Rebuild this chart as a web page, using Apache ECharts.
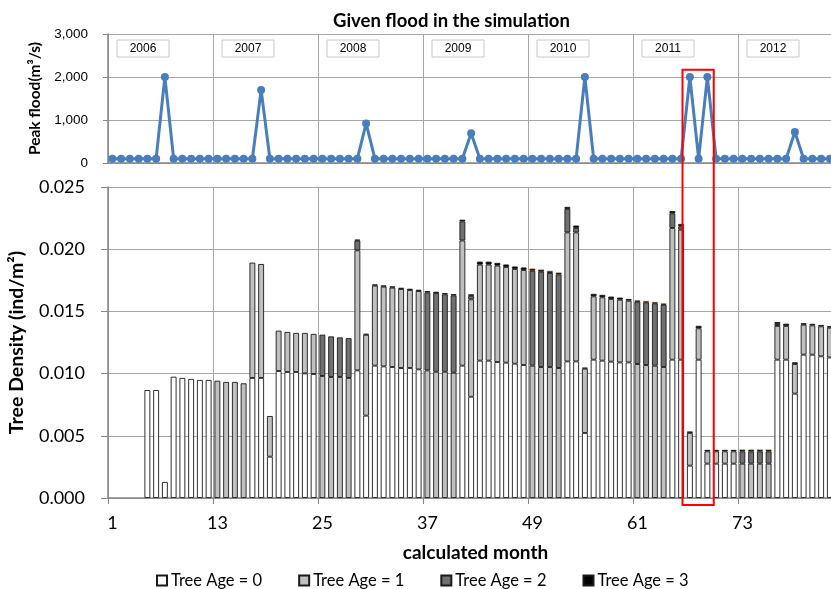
<!DOCTYPE html>
<html><head><meta charset="utf-8">
<script src="https://cdn.jsdelivr.net/npm/echarts@6/dist/echarts.min.js"></script>
<style>html,body{margin:0;padding:0;background:#fff}#c{width:831px;height:589px}</style>
</head><body><div id="c"></div>
<script>
// ---- data ----
const years = ['2006','2007','2008','2009','2010','2011','2012'];
const months = [];
for (let i = 1; i <= 84; i++) months.push(String(i));

const peakFlood = [
  100,100,100,100,100,100,2000,100,100,100,100,100,
  100,100,100,100,100,1700,100,100,100,100,100,100,
  100,100,100,100,100,920,100,100,100,100,100,100,
  100,100,100,100,100,690,100,100,100,100,100,100,
  100,100,100,100,100,100,2000,100,100,100,100,100,
  100,100,100,100,100,100,2000,100,2000,100,100,100,
  100,100,100,100,100,100,720,100,100,100,100,100
];

const age0 = [
  0,0,0,0,0.00868,0.00868,0.00129,0.00975,0.00965,0.00957,0.00949,0.00949,
  0,0,0,0,0.00965,0.00965,0.00332,0.01021,0.01013,0.01013,0.01002,0.00997,
  0,0,0,0,0.01026,0.00662,0.01064,0.01058,0.01053,0.01045,0.01045,0.01034,
  0,0,0,0,0.01064,0.00814,0.01104,0.01104,0.01093,0.01088,0.01080,0.01069,
  0,0,0,0,0.01098,0.01098,0.00523,0.01112,0.01104,0.01096,0.01090,0.01090,
  0,0,0,0,0.01112,0.01112,0.00260,0.01112,0.00276,0.00276,0.00276,0.00276,
  0,0,0,0,0.01112,0.01112,0.00839,0.01152,0.01152,0.01139,0.01130,0.01125
];
const age1 = [
  0,0,0,0,0,0,0,0,0,0,0,0,
  0.00943,0.00933,0.00933,0.00922,0.00927,0.00916,0.00327,0.00324,0.00322,0.00314,0.00325,0.00322,
  0.00981,0.00973,0.00973,0.00965,0.00965,0.00650,0.00643,0.00641,0.00638,0.00635,0.00627,0.00630,
  0.01026,0.01015,0.01015,0.01007,0.01006,0.00783,0.00772,0.00772,0.00775,0.00769,0.00761,0.00764,
  0.01064,0.01053,0.01053,0.01045,0.01037,0.01037,0.00517,0.00509,0.00509,0.00504,0.00504,0.00496,
  0.01077,0.01069,0.01064,0.01053,0.01059,0.01045,0.00263,0.00252,0.00099,0.00099,0.00099,0.00099,
  0.00276,0.00276,0.00276,0.00276,0.00271,0.00271,0.00238,0.00241,0.00236,0.00241,0.00239,0.00238
];
const age2 = [
  0,0,0,0,0,0,0,0,0,0,0,0,
  0,0,0,0,0,0,0,0,0,0,0,0,
  0.00332,0.00326,0.00318,0.00320,0.00078,0,0,0,0,0,0,0,
  0.00627,0.00633,0.00622,0.00622,0.00154,0.00028,0,0,0,0,0,0,
  0.00763,0.00766,0.00756,0.00753,0.00189,0.00036,0,0,0,0,0,0,
  0.00501,0.00504,0.00501,0.00501,0.00117,0.00027,0,0,0,0,0,0,
  0.00099,0.00099,0.00099,0.00099,0.00016,0,0,0,0,0,0,0
];
const age3 = [
  0,0,0,0,0,0,0,0,0,0,0,0,
  0,0,0,0,0,0,0,0,0,0,0,0,
  0,0,0,0,0.00008,0.00008,0.00010,0.00010,0.00010,0.00010,0.00010,0.00010,
  0.00010,0.00010,0.00010,0.00010,0.00013,0.00012,0.00024,0.00024,0.00022,0.00020,0.00020,0.00020,
  0.00015,0.00015,0.00014,0.00012,0.00016,0.00019,0.00008,0.00020,0.00020,0.00019,0.00017,0.00014,
  0.00010,0.00008,0.00008,0.00008,0.00019,0.00019,0.00012,0.00020,0.00012,0.00012,0.00012,0.00012,
  0.00012,0.00012,0.00012,0.00012,0.00016,0.00018,0.00014,0.00012,0.00012,0.00011,0.00012,0.00012
];
const age4 = [
  0,0,0,0,0,0,0,0,0,0,0,0,
  0,0,0,0,0,0,0,0,0,0,0,0,
  0,0,0,0,0,0,0,0,0,0,0,0,
  0,0,0,0,0,0,0,0,0,0,0,0,
  0.00004,0.00004,0.00004,0.00004,0,0,0,0,0,0,0,0,
  0.00004,0.00004,0.00004,0.00004,0,0,0,0,0,0,0,0,
  0.00004,0.00004,0.00004,0.00004,0,0,0,0,0,0,0,0
];
const seriesNames = ['Tree Age = 0','Tree Age = 1','Tree Age = 2','Tree Age = 3','Tree Age = 4'];
const ageData = [age0, age1, age2, age3, age4];
const ageColors = ['#ffffff','#c0c0c0','#707070','#000000','#e8873a'];

// ---- chart ----
const chart = echarts.init(document.getElementById('c'));
const CAL = 'Lato, "Open Sans", sans-serif';
const ARIAL = '"Liberation Sans", Arial, sans-serif';
const gridColor = '#a6a6a6';
const axisColor = '#868686';

const barSeries = ageData.map((arr, i) => ({
  name: seriesNames[i],
  type: 'bar',
  stack: 'density',
  xAxisIndex: 1, yAxisIndex: 1,
  barCategoryGap: '33%',
  data: arr.map(v => v === 0 ? null : v),
  itemStyle: {
    color: ageColors[i],
    borderColor: i === 4 ? ageColors[i] : '#1a1a1a',
    borderWidth: i === 4 ? 0 : 0.9
  },
  emphasis: {disabled: true}
}));

const option = {
  animation: false,
  backgroundColor: '#fff',
  title: {
    text: 'Given flood in the simulation',
    left: 328, top: 7,
    textStyle: {fontFamily: CAL, fontSize: 18.5, fontWeight: 'bold', color: '#000'}
  },
  legend: {
    data: seriesNames.slice(0, 4),
    left: 151, top: 567,
    icon: 'rect', itemWidth: 10, itemHeight: 10, itemGap: 36,
    textStyle: {fontFamily: CAL, fontSize: 16.5, color: '#000', padding: [0,0,0,-1]},
    selectedMode: false
  },
  grid: [
    {left: 108, top: 34, width: 735, height: 129, outerBoundsMode: 'none'},
    {left: 108, top: 187, width: 735, height: 311, outerBoundsMode: 'none'}
  ],
  xAxis: [
    {
      type: 'category', gridIndex: 0, data: months, boundaryGap: true,
      axisLine: {lineStyle: {color: axisColor, width: 1.5}},
      axisTick: {show: false},
      axisLabel: {show: false},
      splitLine: {show: true, interval: 11, lineStyle: {color: gridColor, width: 1}}
    },
    {
      type: 'category', gridIndex: 1, data: months, boundaryGap: true,
      name: 'calculated month', nameLocation: 'middle', nameGap: 45,
      nameTextStyle: {fontFamily: CAL, fontSize: 19, fontWeight: 'bold', color: '#000'},
      axisLine: {lineStyle: {color: axisColor, width: 1.5}},
      axisTick: {show: true, interval: 11, length: 6, lineStyle: {color: axisColor}},
      axisLabel: {interval: 11, fontFamily: CAL, fontSize: 18, color: '#000', margin: 16},
      splitLine: {show: true, interval: 11, lineStyle: {color: gridColor, width: 1}}
    }
  ],
  yAxis: [
    {
      type: 'value', gridIndex: 0, min: 0, max: 3000, interval: 1000,
      name: 'Peak flood(m³/s)', nameLocation: 'middle', nameGap: 56, nameRotate: 90,
      nameTextStyle: {fontFamily: CAL, fontSize: 15.5, fontWeight: 'bold', color: '#000'},
      axisLine: {show: true, lineStyle: {color: axisColor, width: 1.5}},
      axisTick: {show: true, length: 5, lineStyle: {color: axisColor}},
      axisLabel: {fontFamily: ARIAL, fontSize: 13.5, color: '#000', margin: 20,
        formatter: v => v.toLocaleString('en-US')},
      splitLine: {show: true, lineStyle: {color: gridColor, width: 1}}
    },
    {
      type: 'value', gridIndex: 1, min: 0, max: 0.025, interval: 0.005,
      name: 'Tree Density (ind/m²)', nameLocation: 'middle', nameGap: 81, nameRotate: 90,
      nameTextStyle: {fontFamily: CAL, fontSize: 19.5, fontWeight: 'bold', color: '#000'},
      axisLine: {show: true, lineStyle: {color: axisColor, width: 1.5}},
      axisTick: {show: true, length: 7, lineStyle: {color: axisColor}},
      axisLabel: {fontFamily: CAL, fontSize: 18, color: '#000', margin: 23,
        formatter: v => v.toFixed(3)},
      splitLine: {show: true, lineStyle: {color: gridColor, width: 1}}
    }
  ],
  series: [
    {
      name: 'Peak flood', type: 'line', xAxisIndex: 0, yAxisIndex: 0,
      data: peakFlood, symbol: 'circle', symbolSize: 8, showSymbol: true, showAllSymbol: true,
      itemStyle: {color: '#4a7ebb'}, lineStyle: {color: '#4a7ebb', width: 3},
      emphasis: {disabled: true}, z: 5
    }
  ].concat(barSeries)
};
chart.setOption(option);

// annotations: year boxes & red highlight rectangle, placed via the axes' scales
function px(axisIdx, i) { return chart.convertToPixel({xAxisIndex: axisIdx}, i); }
const band = px(0, 1) - px(0, 0);
const boundary = i => px(0, i) - band / 2;
const graphics = [];
years.forEach((y, k) => {
  const x0 = boundary(k * 12) + 9;
  graphics.push({
    type: 'rect', shape: {x: x0, y: 40, width: 52, height: 17},
    style: {fill: '#fff', stroke: '#c8c8c8', lineWidth: 1}, z: 10
  });
  graphics.push({
    type: 'text', x: x0 + 26, y: 48.5,
    style: {text: y, fill: '#000', font: '12px ' + ARIAL, align: 'center', verticalAlign: 'middle'}, z: 11
  });
});
const hiStart = months.indexOf('67'), hiEnd = months.indexOf('69');
const rx0 = boundary(hiStart) - 3, rx1 = boundary(hiEnd) + band + 2;
const ryTop = chart.convertToPixel({yAxisIndex: 0}, 2170);
const ryBot = chart.convertToPixel({yAxisIndex: 1}, 0) + 7;
graphics.push({
  type: 'rect', shape: {x: rx0, y: ryTop, width: rx1 - rx0, height: ryBot - ryTop},
  style: {fill: 'none', stroke: '#ff0000', lineWidth: 2}, z: 20
});
chart.setOption({graphic: graphics});
</script>
</body></html>
